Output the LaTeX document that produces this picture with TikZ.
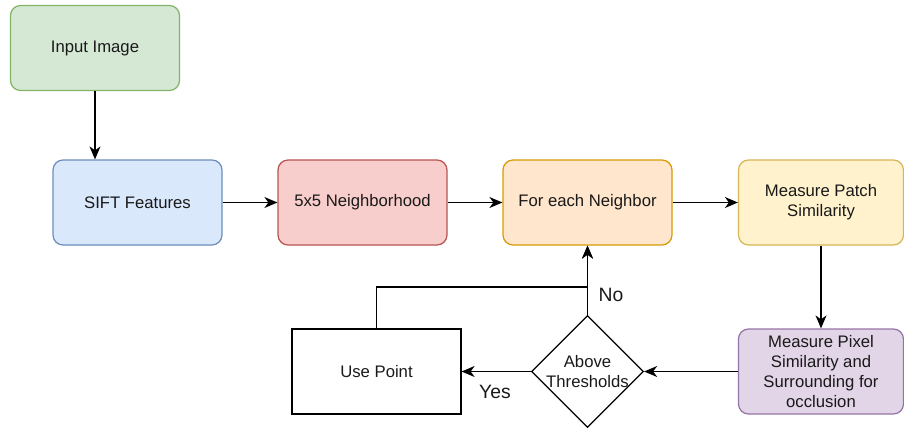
\documentclass[tikz,border=0pt]{standalone}
\usepackage{fontspec}
\setmainfont{Liberation Sans}
\usetikzlibrary{arrows.meta,shapes.geometric}

\definecolor{greenfill}{HTML}{D5E8D4}
\definecolor{greenline}{HTML}{82B366}
\definecolor{bluefill}{HTML}{DAE8FC}
\definecolor{blueline}{HTML}{6C8EBF}
\definecolor{redfill}{HTML}{F8CECC}
\definecolor{redline}{HTML}{B85450}
\definecolor{orangefill}{HTML}{FFE6CC}
\definecolor{orangeline}{HTML}{D79B00}
\definecolor{yellowfill}{HTML}{FFF2CC}
\definecolor{yellowline}{HTML}{D6B656}
\definecolor{purplefill}{HTML}{E1D5E7}
\definecolor{purpleline}{HTML}{9673A6}

\begin{document}
\begin{tikzpicture}[
        txt/.style={font=\fontsize{9.5}{11.5}\selectfont, text=black!90},
        box/.style={txt, draw, rounded corners=0.2cm, minimum width=3.38cm, minimum height=1.7cm, align=center, line width=0.7pt},
        decision/.style={draw, diamond, minimum width=2.24cm, minimum height=2.24cm, inner sep=0pt, line width=0.7pt},
        arr/.style={-{Stealth[length=2.6mm,width=2.2mm,inset=0.8mm]}, line width=0.75pt}
    ]
            \useasboundingbox (0,0) rectangle (18.08,-8.6);

            \node[box, fill=greenfill, draw=greenline] (input) at (1.9,-0.96) {Input Image};
            \node[box, fill=bluefill, draw=blueline] (sift) at (2.75,-4.05) {SIFT Features};
            \node[box, fill=redfill, draw=redline] (nbhd) at (7.25,-4.05) {5x5 Neighborhood};
            \node[box, fill=orangefill, draw=orangeline] (each) at (11.75,-4.05) {For each Neighbor};
            \node[box, fill=yellowfill, draw=yellowline, minimum width=3.3cm] (patch) at (16.42,-4.05) {Measure Patch\\Similarity};
            \node[box, fill=purplefill, draw=purpleline, minimum width=3.3cm] (pixel) at (16.42,-7.43) {Measure Pixel\\Similarity and\\Surrounding for\\occlusion};

            \node[decision, label={[txt, align=center]center:Above\\Thresholds}] (thr) at (11.75,-7.43) {};
            \node[box, rounded corners=0pt, draw=black] (use) at (7.53,-7.43) {Use Point};

            \coordinate (join) at (11.75,-5.74);

            \draw[arr] (input.south) -- (input.south |- sift.north);
            \draw[arr] (sift) -- (nbhd);
            \draw[arr] (nbhd) -- (each);
            \draw[arr] (each) -- (patch);
            \draw[arr] (patch) -- (pixel);
            \draw[arr] (pixel) -- (thr);
            \draw[arr] (thr) -- (use);
            \draw[arr] (thr) -- (each);
            \draw[arr] (use.north) |- (join) -- (each.south);

            \node[txt, font=\fontsize{11}{13}\selectfont] (no) at (12.22,-5.9) {No};
            \node[txt, font=\fontsize{11}{13}\selectfont] (yes) at (9.9,-7.84) {Yes};
    \end{tikzpicture}
\end{document}
